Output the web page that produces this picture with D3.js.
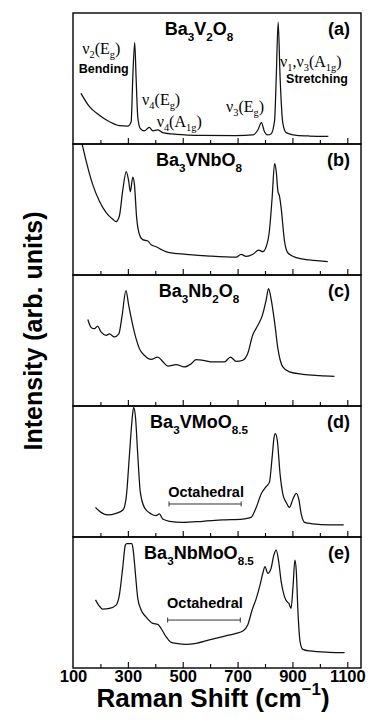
<!DOCTYPE html>
<html>
<head>
<meta charset="utf-8">
<script src="https://cdn.jsdelivr.net/npm/d3@7"></script>
<style>
  body { margin: 0; background: #fff; }
  svg { display: block; }
</style>
</head>
<body>
<div id="chart"></div>
<script>
// Raman spectra, values (arb. units, 0-100 per panel)
var shiftA = [129,160,196,233,269,300,312,318,325,330,336,345,360,378,391,409,427,476,573,695,756,774,787,798,810,822,835,841,848,855,865,877,914,962,1031];
var intensityA = [38.7,28.5,22,17,14,13.7,17,51,77.4,51,21,12,10,12.7,10,10.7,8.7,7.4,6.6,6.4,6.9,10.7,16.3,9.4,6.9,7.6,18,51,93,51,16,8.7,6.6,6.1,5.9];

var shiftB = [131,148,172,196,221,245,257,269,281,294,303,309,318,324,332,342,354,373,385,405,421,451,512,598,695,713,731,756,777,792,804,816,826,835,841,847,853,859,871,883,914,962,1029];
var intensityB = [102,87,69,56.5,47.6,42.5,40.7,45,64,79,71.8,63.6,74.8,69,43.8,31,27,26,23,21.4,19.6,17,15.8,14.5,13.7,15.8,14.2,15.8,19,17.8,21.4,33.6,59,85,79,64,60,51,26,17,13.2,11.5,10.2];

var shiftC = [154,166,178,190,202,221,233,251,267,279,293,303,318,330,342,360,385,409,427,446,476,506,531,549,574,610,652,674,695,719,737,755,774,790,804,813,822,835,847,865,889,938,999,1053];
var intensityC = [66,60,59,61,56.5,54,55,52.7,55,69,88,77,61.6,51.4,43.8,38.7,35.6,37.4,34,30.5,31.6,29.8,32.3,35.4,34.9,33.6,33.6,37.4,34,34.9,40,54,61.6,69,80.7,89.6,82,64,43.8,29.8,26,24.2,23.2,22.6];

var shiftD = [182,202,227,257,282,294,306,316,321,328,336,345,360,385,403,415,427,452,500,573,646,719,749,768,786,804,816,826,833,838,845,855,865,877,889,902,914,923,932,944,974,1035,1087];
var intensityD = [22.6,18.8,16.8,18,20.6,30.3,63.4,91,99,91,63,35,22.6,17.6,16.3,17.6,13.7,12,11.2,12,13,13.7,15,22.6,32.8,38.4,41.7,60.8,76,79,73.5,48,32.8,26.5,22.6,29,33.3,29,17.6,11.2,10,9.2,9.2];

var shiftE = [182,194,208,233,257,269,281,291,296,315,320,328,336,348,366,391,409,421,439,458,476,512,549,597,646,695,719,737,753,768,782,792,800,810,822,832,841,850,859,871,880,887,895,902,909,914,920,928,938,962,1035,1090];
var intensityE = [52,47.8,45,45.5,48,55.7,76,94,95,95,89,71,53.4,44.5,39,34,33.3,30.3,24,19.6,18.8,18,18.8,21.4,24,26.5,28.2,32.8,44.3,53,63.4,72.3,77.4,72.3,76,86,90,81,66,54.5,50.6,49.4,45.5,61.6,82.4,74.3,43.8,20,14.2,13,12,11.7];

// panel titles as [text, 0 normal / 1 subscript]
var titles = [
    [["Ba",0],["3",1],["V",0],["2",1],["O",0],["8",1]],
    [["Ba",0],["3",1],["VNbO",0],["8",1]],
    [["Ba",0],["3",1],["Nb",0],["2",1],["O",0],["8",1]],
    [["Ba",0],["3",1],["VMoO",0],["8.5",1]],
    [["Ba",0],["3",1],["NbMoO",0],["8.5",1]]
];
var letters = ["(a)", "(b)", "(c)", "(d)", "(e)"];
var xTickLabels = [100, 300, 500, 700, 900, 1100];
var xTickMarks = [200, 300, 400, 500, 600, 700, 800, 900, 1000, 1100];

// mode labels in panel (a): [parts, shift, intensity, font]
var modeLabels = [
    [[["ν",0],["2",1],["(E",0],["g",1],[")",0]], 134, 69, "serif"],
    [[["Bending",0]], 121, 54.5, "sans"],
    [[["ν",0],["4",1],["(E",0],["g",1],[")",0]], 352, 29.8, "serif"],
    [[["ν",0],["4",1],["(A",0],["1g",1],[")",0]], 405, 13.2, "serif"],
    [[["ν",0],["3",1],["(E",0],["g",1],[")",0]], 658, 24.7, "serif"],
    [[["ν",0],["1",1],[",ν",0],["3",1],["(A",0],["1g",1],[")",0]], 855, 58.5, "serif"],
    [[["Stretching",0]], 877, 46.3, "sans"]
];
// octahedral range brackets: [panel, from, to, bracket level, text level]
var octahedral = [
    [3, 450, 713, 25.2, 30.8],
    [4, 445, 710, 36.6, 45.6]
];

var SANS = "'Liberation Sans', Arial, Helvetica, sans-serif";
var SERIF = "'Liberation Serif', 'Times New Roman', serif";

var W = 369, H = 724;
var left = 73, right = 361, top0 = 13, panelH = 131;

var svg = d3.select("#chart").append("svg")
    .attr("width", W)
    .attr("height", H);

var x = d3.scaleLinear().domain([100, 1150]).range([left, right]);

var series = [
    {s: shiftA, v: intensityA},
    {s: shiftB, v: intensityB},
    {s: shiftC, v: intensityC},
    {s: shiftD, v: intensityD},
    {s: shiftE, v: intensityE}
];

function rich(textSel, parts, size, sub) {
    var shift = 0;
    sub = sub || 0.32;
    parts.forEach(function (p) {
        var target = p[1] === 1 ? size * sub : (p[1] === -1 ? -size * 0.45 : 0);
        textSel.append("tspan")
            .attr("dy", (target - shift).toFixed(2))
            .attr("font-size", p[1] ? size * 0.65 : size)
            .text(p[0]);
        shift = target;
    });
}

var panels = [];

series.forEach(function (d, i) {
    var top = top0 + i * panelH,
        bottom = top + panelH;
    var y = d3.scaleLinear().domain([0, 100]).range([bottom, top]);
    panels.push(y);

    svg.append("clipPath").attr("id", "clip" + i)
        .append("rect")
        .attr("x", left).attr("y", top)
        .attr("width", right - left).attr("height", panelH);

    var g = svg.append("g");

    // tick marks pointing inward from the bottom edge
    g.append("g")
        .attr("transform", "translate(0," + bottom + ")")
        .call(d3.axisBottom(x)
            .tickValues(xTickMarks)
            .tickSize(0)
            .tickFormat(""))
        .call(function (a) { a.select(".domain").remove(); })
        .selectAll(".tick line")
        .attr("y2", function (t) { return (t % 200 === 100) ? -6 : -4; })
        .attr("stroke", "#000")
        .attr("stroke-width", 1.1);

    var pts = d.s.map(function (s, k) { return [s, d.v[k]]; });
    var line = d3.line()
        .x(function (p) { return x(p[0]); })
        .y(function (p) { return y(p[1]); })
        .curve(d3.curveMonotoneX);

    g.append("path")
        .datum(pts)
        .attr("clip-path", "url(#clip" + i + ")")
        .attr("fill", "none")
        .attr("stroke", "#111")
        .attr("stroke-width", 1.25)
        .attr("stroke-linejoin", "round")
        .attr("d", line);

    var t = g.append("text")
        .attr("x", 199)
        .attr("y", top + 22)
        .attr("text-anchor", "middle")
        .attr("font-family", SANS)
        .attr("font-weight", "bold");
    rich(t, titles[i], 18);

    g.append("text")
        .attr("x", 350)
        .attr("y", top + 22)
        .attr("text-anchor", "end")
        .attr("font-family", SANS)
        .attr("font-weight", "bold")
        .attr("font-size", 18)
        .text(letters[i]);

    g.append("rect")
        .attr("x", left).attr("y", top)
        .attr("width", right - left).attr("height", panelH)
        .attr("fill", "none")
        .attr("stroke", "#000")
        .attr("stroke-width", 1.4);
});

// mode assignments, panel (a)
modeLabels.forEach(function (m) {
    var isSerif = m[3] === "serif";
    var t = svg.append("text")
        .attr("x", x(m[1]))
        .attr("y", panels[0](m[2]))
        .attr("font-family", isSerif ? SERIF : SANS)
        .attr("font-weight", isSerif ? "normal" : "bold");
    rich(t, m[0], isSerif ? 16 : 12.5, 0.25);
});

// octahedral brackets
octahedral.forEach(function (o) {
    var y = panels[o[0]];
    var b = svg.append("g").attr("stroke", "#333").attr("stroke-width", 1);
    b.append("line")
        .attr("x1", x(o[1])).attr("x2", x(o[2]))
        .attr("y1", y(o[3])).attr("y2", y(o[3]));
    [o[1], o[2]].forEach(function (e) {
        b.append("line")
            .attr("x1", x(e)).attr("x2", x(e))
            .attr("y1", y(o[3]) - 2.5).attr("y2", y(o[3]) + 2.5);
    });
    svg.append("text")
        .attr("x", x((o[1] + o[2]) / 2) + 1)
        .attr("y", y(o[4]))
        .attr("text-anchor", "middle")
        .attr("font-family", SANS)
        .attr("font-weight", "bold")
        .attr("font-size", 14.5)
        .text("Octahedral");
});

// x tick labels
var bottomY = top0 + 5 * panelH;
svg.append("g")
    .attr("transform", "translate(0," + bottomY + ")")
    .call(d3.axisBottom(x)
        .tickValues(xTickLabels)
        .tickFormat(d3.format("d"))
        .tickSize(0)
        .tickPadding(2))
    .call(function (a) { a.select(".domain").remove(); })
    .selectAll("text")
    .attr("fill", "#000")
    .attr("font-family", SANS)
    .attr("font-weight", "bold")
    .attr("font-size", 16.5);

// axis titles
var xt = svg.append("text")
    .attr("x", 213)
    .attr("y", 707)
    .attr("text-anchor", "middle")
    .attr("font-family", SANS)
    .attr("font-weight", "bold")
    .attr("font-size", 26);
rich(xt, [["Raman Shift (cm",0],["−1",-1],[")",0]], 26);

svg.append("text")
    .attr("transform", "translate(42,331) rotate(-90)")
    .attr("text-anchor", "middle")
    .attr("font-family", SANS)
    .attr("font-weight", "bold")
    .attr("font-size", 25)
    .text("Intensity (arb. units)");
</script>
</body>
</html>
